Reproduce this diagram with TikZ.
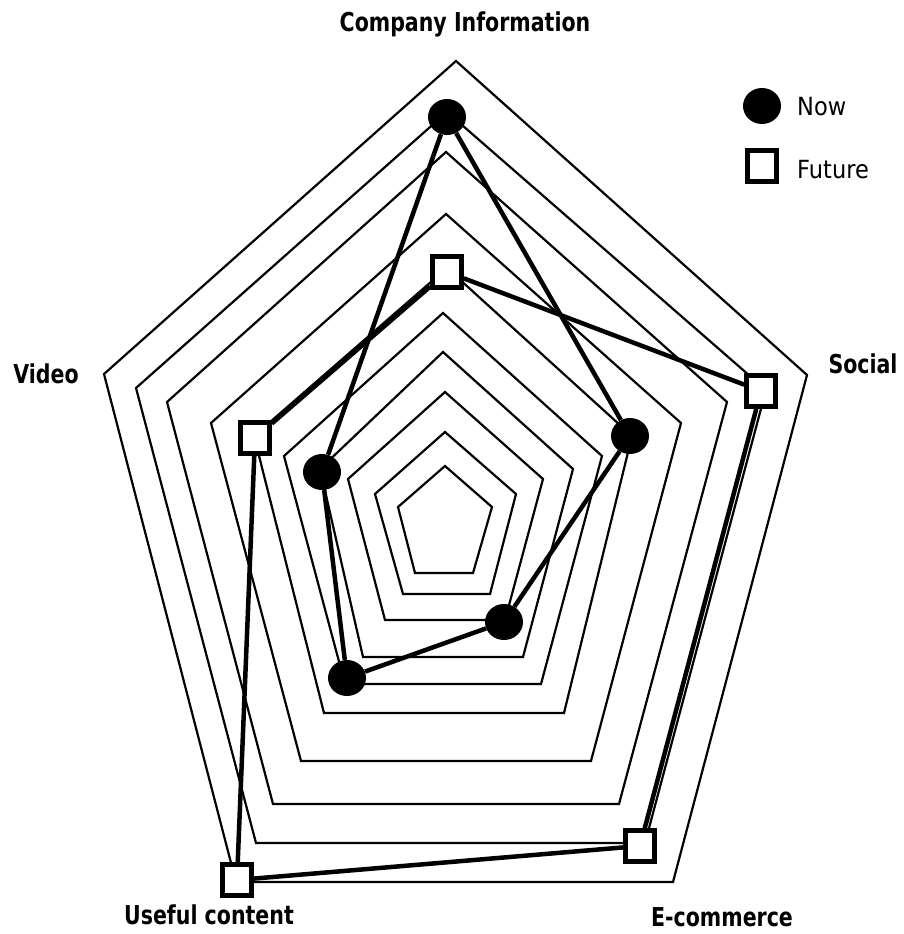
\documentclass[tikz,border=0pt]{standalone}
\usepackage{fontspec}
\setmainfont{DejaVu Sans}
\newfontfamily\axisfont[FakeStretch=0.79]{DejaVu Sans}
\newfontfamily\legendfont[FakeStretch=0.9]{DejaVu Sans}
\usepackage{tikz}
\usetikzlibrary{shapes.geometric, positioning, calc}

\tikzset{
    grid/.style={black, line width=2.2pt, line join=miter},
    nowdot/.style={ellipse, fill=black, minimum width=38pt, minimum height=36pt, inner sep=0pt},
    futurebox/.style={rectangle, draw=black, fill=white, line width=4.5pt, minimum width=29pt, minimum height=31pt, inner sep=0pt},
    valueline/.style={black, line width=4.5pt},
    axislabel/.style={font=\axisfont\fontsize{26}{30}\selectfont\bfseries, inner sep=0pt, anchor=base},
    legendtext/.style={font=\legendfont\fontsize{25}{29}\selectfont, inner sep=0pt, anchor=base west}
}

\begin{document}
\begin{tikzpicture}[x=1pt, y=-1pt]
\useasboundingbox (0,0) rectangle (903,934);

% Grid
\draw[grid] (445,466) -- (492,507) -- (473,573) -- (415,573) -- (398,507) -- cycle;
\draw[grid] (445,432) -- (516,494) -- (490,594) -- (403,594) -- (375,494) -- cycle;
\draw[grid] (445,392) -- (543,479) -- (505,620) -- (385,620) -- (348,479) -- cycle;
\draw[grid] (443,352) -- (573,469) -- (523,657) -- (363,657) -- (320,469) -- cycle;
\draw[grid] (443,313) -- (602,456) -- (541,684) -- (345,684) -- (284,456) -- cycle;
\draw[grid] (447,268) -- (632,436) -- (564,713) -- (324,713) -- (254,436) -- cycle;
\draw[grid] (446,214) -- (681,423) -- (591,761) -- (301,761) -- (211,423) -- cycle;
\draw[grid] (446,152) -- (727,402) -- (619,804) -- (273,804) -- (167,402) -- cycle;
\draw[grid] (447,112) -- (766,390) -- (645,843) -- (256,843) -- (136,388) -- cycle;
\draw[grid] (456,61) -- (807,375) -- (673,882) -- (236,882) -- (104,374) -- cycle;

% Axis labels
\node[axislabel] (lblci) at (465,32) {Company Information};
\node[axislabel] (lblsoc) at (863,373) {Social};
\node[axislabel] (lblecom) at (722,926) {E-commerce};
\node[axislabel] (lbluse) at (209,924) {Useful content};
\node[axislabel] (lblvid) at (46,383) {Video};

% Now
\node[nowdot] (nowci) at (447,117) {};
\node[nowdot] (nowsoc) at (630,436) {};
\node[nowdot] (nowecom) at (504,622) {};
\node[nowdot] (nowuse) at (347,678) {};
\node[nowdot] (nowvid) at (322,472) {};
\foreach \a/\b in {ci/soc, soc/ecom, ecom/use, use/vid, vid/ci} {
    \draw[valueline] (now\a) -- (now\b);
}

% Future
\node[futurebox] (futci) at (447,272) {};
\node[futurebox] (futsoc) at (761,391) {};
\node[futurebox] (futecom) at (640,846) {};
\node[futurebox] (futuse) at (237,880) {};
\node[futurebox] (futvid) at (255,438) {};
\foreach \a/\b in {ci/soc, soc/ecom, ecom/use, use/vid, vid/ci} {
    \draw[valueline] (fut\a) -- (fut\b);
}

% Legend
\node[nowdot] (legnow) at (762,106) {};
\node[legendtext] (legnowtxt) at (797,115) {Now};
\node[futurebox] (legfut) at (762,166) {};
\node[legendtext] (legfuttxt) at (797,178) {Future};
\end{tikzpicture}
\end{document}
